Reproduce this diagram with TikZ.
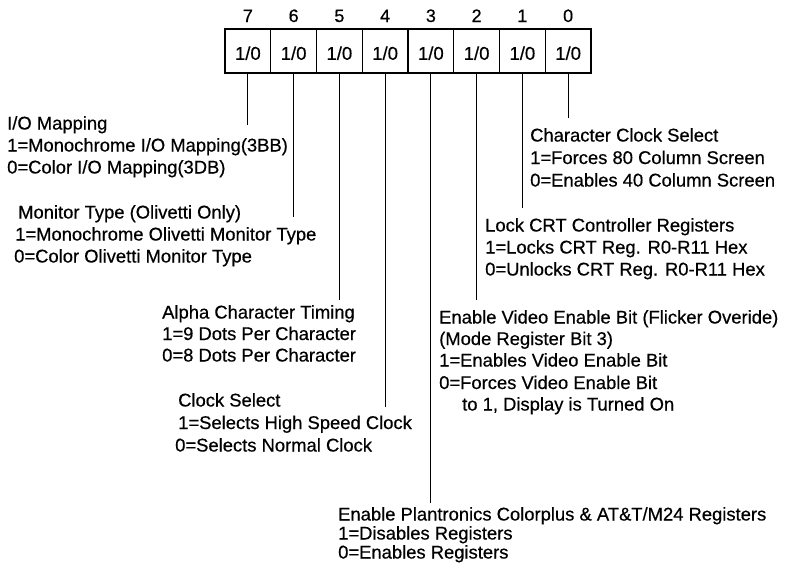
\documentclass[tikz,border=0pt]{standalone}
\usepackage{fontspec}
\setmainfont{Liberation Sans}[FakeBold=0.5]
\begin{document}
\begin{tikzpicture}[x=1pt,y=-1pt]
\tikzset{
  bitbox/.style={draw, line width=1.2pt, minimum width=45.75pt, minimum height=44pt, inner sep=0pt,
    text height=17.6pt, text depth=0pt, font=\fontsize{18.5}{22}\selectfont},
  bitnum/.style={anchor=base, inner sep=0pt, font=\fontsize{18}{20}\selectfont},
  desc/.style={anchor=base west, inner sep=0pt, font=\fontsize{18.4}{22}\selectfont},
  lead/.style={line width=1.2pt},
}
\useasboundingbox (0,0) rectangle (793,571);
\foreach \i in {0,...,7}{
  \node[bitbox] (b\i) at ({225+45.75*(7-\i+0.5)},51) {1/0};
  \node[bitnum] (t\i) at ({225+45.75*(7-\i+0.5)},22) {\i};
}
% end points of leads
\coordinate (e7) at (b7.south |- 0,125);
\coordinate (e6) at (b6.south |- 0,217);
\coordinate (e5) at (b5.south |- 0,300);
\coordinate (e4) at (b4.south |- 0,407);
\coordinate (e3) at (b3.south |- 0,503);
\coordinate (e2) at (b2.south |- 0,300);
\coordinate (e1) at (b1.south |- 0,208);
\coordinate (e0) at (b0.south |- 0,118);
\foreach \i in {0,...,7}{ \draw[lead] (b\i.south) -- (e\i); }
% bit 7
\node[desc] (io1) at (7,129.5) {I/O Mapping};
\node[desc] (io2) at (7,151.5) {1=Monochrome I/O Mapping(3BB)};
\node[desc] (io3) at (7,173.5) {0=Color I/O Mapping(3DB)};
% bit 6
\node[desc] (mt1) at (18,218.5) {Monitor Type (Olivetti Only)};
\node[desc] (mt2) at (15,240.5) {1=Monochrome Olivetti Monitor Type};
\node[desc] (mt3) at (14,262.5) {0=Color Olivetti Monitor Type};
% bit 5
\node[desc] (ac1) at (162,318.5) {Alpha Character Timing};
\node[desc] (ac2) at (162,340) {1=9 Dots Per Character};
\node[desc] (ac3) at (162,361.5) {0=8 Dots Per Character};
% bit 4
\node[desc] (cs1) at (178,406.5) {Clock Select};
\node[desc] (cs2) at (178,429) {1=Selects High Speed Clock};
\node[desc] (cs3) at (175,451.5) {0=Selects Normal Clock};
% bit 0
\node[desc] (cc1) at (530,141.5) {Character Clock Select};
\node[desc] (cc2) at (530,164) {1=Forces 80 Column Screen};
\node[desc] (cc3) at (530,186.5) {0=Enables 40 Column Screen};
% bit 1
\node[desc] (lk1) at (485,231.5) {Lock CRT Controller Registers};
\node[desc] (lk2) at (485,253.5) {1=Locks CRT Reg. R0-R11 Hex};
\node[desc] (lk3) at (485,275.5) {0=Unlocks CRT Reg. R0-R11 Hex};
% bit 2
\node[desc] (ev1) at (439,323.5) {Enable Video Enable Bit (Flicker Overide)};
\node[desc] (ev2) at (439,345) {(Mode Register Bit 3)};
\node[desc] (ev3) at (439,366.5) {1=Enables Video Enable Bit};
\node[desc] (ev4) at (439,389) {0=Forces Video Enable Bit};
\node[desc] (ev5) at (462,410.5) {to 1, Display is Turned On};
% bit 3
\node[desc] (pc1) at (338,520.5) {Enable Plantronics Colorplus \& AT\&T/M24 Registers};
\node[desc] (pc2) at (338,539.5) {1=Disables Registers};
\node[desc] (pc3) at (338,558.5) {0=Enables Registers};
\end{tikzpicture}
\end{document}
